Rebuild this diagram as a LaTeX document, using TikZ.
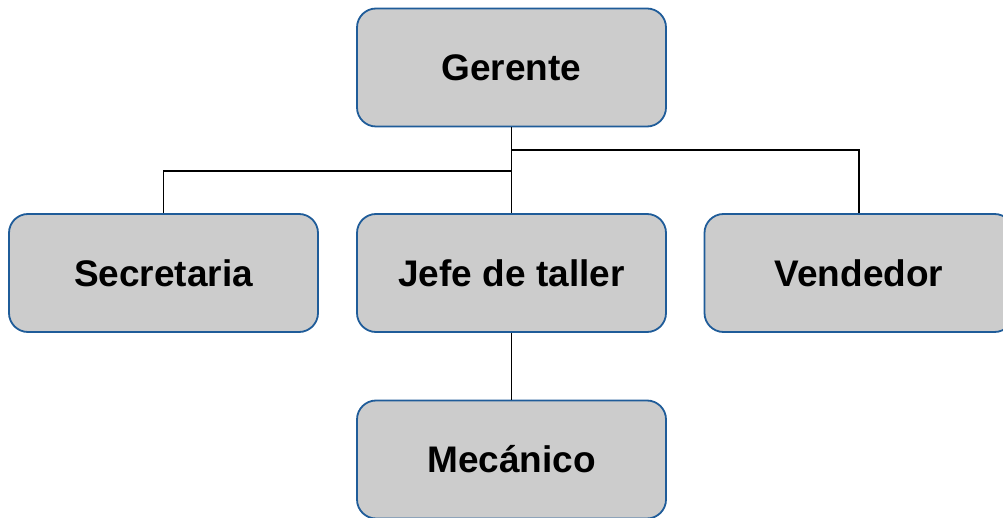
\documentclass[tikz,border=0pt]{standalone}
\usepackage{fontspec}
\setmainfont{Liberation Sans}
\begin{document}
\begin{tikzpicture}[x=1pt,y=-1pt,
  box/.style={draw={rgb,255:red,31;green,92;blue,153}, line width=1.8pt, fill={rgb,255:red,204;green,204;blue,204},
    rounded corners=19pt, minimum width=309pt, minimum height=118pt, inner sep=0pt,
    font=\fontsize{37}{40}\selectfont\bfseries},
  link/.style={draw=black, line width=1.8pt}]
\useasboundingbox (0,0) rectangle (1003,518);
\node[box] (ger) at (511.5,67.5) {Gerente};
\node[box] (sec) at (163.5,273) {Secretaria};
\node[box] (jef) at (511.5,273) {Jefe de taller};
\node[box] (ven) at (859,273) {Vendedor};
\node[box] (mec) at (511.5,459.5) {Mecánico};
\coordinate (r) at (511.5,150);
\coordinate (l) at (511.5,171);
\path[link] (ger.south) -- (jef.north);
\path[link] (r) -| (ven.north);
\path[link] (l) -| (sec.north);
\path[link] (jef.south) -- (mec.north);
\end{tikzpicture}
\end{document}
